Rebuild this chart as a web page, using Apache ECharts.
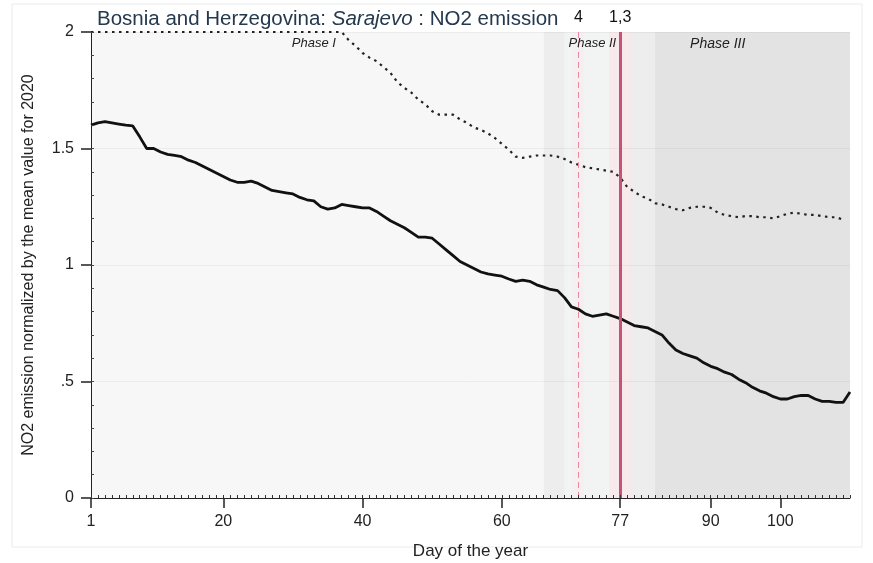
<!DOCTYPE html>
<html>
<head>
<meta charset="utf-8">
<script src="https://cdn.jsdelivr.net/npm/echarts@6/dist/echarts.min.js"></script>
<style>
html,body{margin:0;padding:0;background:#fff;}
#c{width:873px;height:563px;}
</style>
</head>
<body>
<div id="c"></div>
<script>
// ---- data ----
var solidValues = [
 1.60,1.61,1.615,1.61,1.605,1.60,1.597,1.55,1.50,1.50,
 1.485,1.475,1.47,1.465,1.45,1.44,1.425,1.41,1.395,1.38,
 1.365,1.355,1.355,1.36,1.35,1.335,1.32,1.315,1.31,1.305,
 1.29,1.28,1.275,1.25,1.24,1.245,1.26,1.255,1.25,1.245,
 1.245,1.23,1.21,1.19,1.175,1.16,1.14,1.12,1.12,1.115,
 1.09,1.065,1.04,1.015,1.00,0.985,0.97,0.962,0.957,0.952,
 0.94,0.93,0.935,0.93,0.915,0.905,0.895,0.89,0.86,0.82,
 0.81,0.79,0.78,0.785,0.79,0.78,0.77,0.755,0.74,0.735,
 0.73,0.715,0.70,0.665,0.635,0.62,0.61,0.60,0.58,0.565,
 0.555,0.54,0.53,0.51,0.495,0.475,0.46,0.45,0.435,0.425,
 0.425,0.435,0.44,0.44,0.425,0.415,0.415,0.41,0.41,0.455
];
var dottedValues = [
 2.0,2.0,2.0,2.0,2.0,2.0,2.0,2.0,2.0,2.0,
 2.0,2.0,2.0,2.0,2.0,2.0,2.0,2.0,2.0,2.0,
 2.0,2.0,2.0,2.0,2.0,2.0,2.0,2.0,2.0,2.0,
 2.0,2.0,2.0,2.0,2.0,2.0,2.0,1.965,1.94,1.91,
 1.89,1.875,1.85,1.825,1.785,1.76,1.74,1.71,1.69,1.66,
 1.645,1.645,1.645,1.625,1.61,1.59,1.58,1.565,1.545,1.52,
 1.495,1.465,1.46,1.465,1.47,1.47,1.47,1.465,1.455,1.44,
 1.43,1.42,1.415,1.41,1.405,1.40,1.375,1.335,1.315,1.295,
 1.285,1.265,1.26,1.25,1.24,1.235,1.245,1.25,1.25,1.245,
 1.225,1.215,1.21,1.205,1.21,1.21,1.205,1.205,1.20,1.21,
 1.22,1.225,1.22,1.215,1.215,1.21,1.205,1.205,1.195
];
var firstDay = 1;
var xTickLabels = [1, 20, 40, 60, 77, 90, 100];
var phaseNames = ['Phase I', 'Phase II', 'Phase III'];
var phaseStarts = [1, 66, 82];
var phaseEnds = [66, 82, 110];
var phaseLabelDays = [33, 73, 91];
var eventDays = [71, 77];
var eventLabels = ['4', '1,3'];
var titleParts = ['Bosnia and Herzegovina: ', 'Sarajevo', ' : NO2 emission'];

// ---- build ----
function pairs(vals){ return vals.map(function(v,i){ return [firstDay + i, v]; }); }
var FONT = 'Arial, "Liberation Sans", sans-serif';
var phaseColors = ['#f7f7f7', '#ededed', '#e3e3e3'];
var phaseFont = [13, 13, 14];

var chart = echarts.init(document.getElementById('c'), null, {renderer:'canvas'});
var option = {
  animation:false,
  backgroundColor:'#fff',
  textStyle:{fontFamily:FONT},
  title:{
    left:92, top:4,
    text:'{a|'+titleParts[0]+'}{i|'+titleParts[1]+'}{a|'+titleParts[2]+'}',
    textStyle:{fontWeight:'normal',rich:{
      a:{fontSize:20.5,color:'#24384e',fontFamily:FONT,fontWeight:'normal'},
      i:{fontSize:20.5,color:'#24384e',fontStyle:'italic',fontFamily:FONT,fontWeight:'normal'}
    }}
  },
  graphic:[{type:'rect',shape:{x:12,y:4,width:850,height:543},style:{fill:'none',stroke:'#e9ecec',lineWidth:1},z:-1}],
  grid:{left:91,right:23,top:32,bottom:65,containLabel:false,outerBoundsMode:'none'},
  xAxis:[{
    type:'value',min:1,max:110,position:'bottom',z:6,
    name:'Day of the year',nameLocation:'middle',nameGap:45,
    nameTextStyle:{fontSize:17,color:'#222',fontFamily:FONT},
    axisLine:{lineStyle:{color:'#222',width:1}},
    axisTick:{customValues:xTickLabels,length:10,lineStyle:{color:'#222',width:1.5}},
    axisLabel:{customValues:xTickLabels,fontSize:16,color:'#222',margin:16,fontFamily:FONT},
    splitLine:{show:false}
  },{
    type:'value',min:1,max:110,interval:1,position:'bottom',z:6,
    axisLine:{show:false},
    axisTick:{show:true,inside:true,length:3,lineStyle:{color:'#333',width:1}},
    axisLabel:{show:false},splitLine:{show:false}
  }],
  yAxis:[{
    type:'value',min:0,max:2,interval:0.5,position:'left',z:2,
    name:'NO2 emission normalized by the mean value for 2020',nameLocation:'middle',nameGap:54,
    nameTextStyle:{fontSize:16,color:'#222',fontFamily:FONT},
    axisLine:{show:true,lineStyle:{color:'#222',width:1}},
    axisTick:{show:true,length:10,lineStyle:{color:'#222',width:1.5}},
    axisLabel:{fontSize:16,color:'#222',margin:17,fontFamily:FONT,
      formatter:function(v){ return v===0?'0':String(v).replace(/^0/,''); }},
    splitLine:{show:true,lineStyle:{color:'rgba(0,0,0,0.045)',width:1}}
  },{
    type:'value',min:0,max:2,interval:0.1,position:'left',z:6,
    axisLine:{show:false},
    axisTick:{show:true,inside:true,length:3,lineStyle:{color:'#444',width:1}},
    axisLabel:{show:false},splitLine:{show:false}
  }],
  series:[
    {
      type:'line',data:[],z:1,silent:true,
      markArea:{silent:true,data:phaseStarts.map(function(s,i){
        return [{xAxis:s,itemStyle:{color:phaseColors[i]}},{xAxis:phaseEnds[i]}];
      }).concat([
        [{xAxis:69,itemStyle:{color:'#f2f3f3'}},{xAxis:76}],
        [{xAxis:70.2,itemStyle:{color:'#f6eff1'}},{xAxis:71.8}],
        [{xAxis:75.4,itemStyle:{color:'#f8e9ed'}},{xAxis:78.5}]
      ])}
    },
    {
      type:'line',data:[],xAxisIndex:1,yAxisIndex:1,silent:true
    },
    {
      type:'line',data:pairs(dottedValues),z:3,symbol:'none',smooth:false,
      lineStyle:{color:'#222',width:2.2,type:[2.5,4.5]}
    },
    {
      type:'line',data:pairs(solidValues),z:4,symbol:'none',smooth:false,
      lineStyle:{color:'#111',width:2.8}
    },
    {
      type:'line',data:[],z:5,silent:true,
      markLine:{silent:true,symbol:'none',
        label:{position:'end',fontSize:16,color:'#111',fontFamily:FONT,distance:6},
        data:[
          {xAxis:eventDays[0],lineStyle:{color:'#e58aa0',width:1,type:[6,4]},label:{formatter:eventLabels[0]}},
          {xAxis:eventDays[1],lineStyle:{color:'#c8517a',width:3,type:'solid'},label:{formatter:eventLabels[1]}}
        ]},
      markPoint:{silent:true,symbol:'circle',symbolSize:0,
        label:{show:true,color:'#222',fontStyle:'italic',fontFamily:FONT},
        data:phaseNames.map(function(n,i){
          return {coord:[phaseLabelDays[i],1.95],value:n,label:{formatter:n,fontSize:phaseFont[i]}};
        })}
    }
  ]
};
chart.setOption(option);
</script>
</body>
</html>
